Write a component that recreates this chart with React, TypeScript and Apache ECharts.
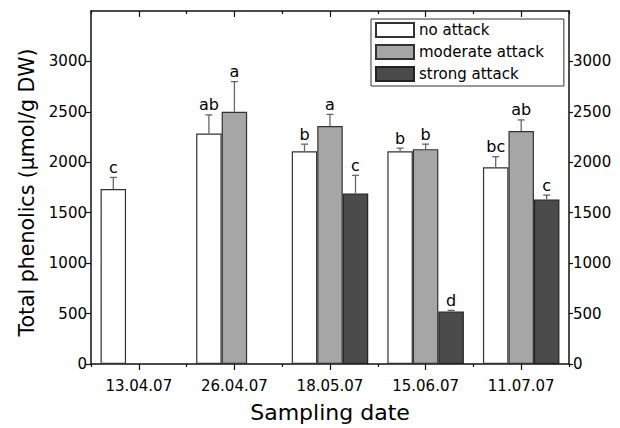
import React, { useEffect, useRef } from "react";
import * as echarts from "echarts";

const categories = ["13.04.07", "26.04.07", "18.05.07", "15.06.07", "11.07.07"];
const seriesNames = ["no attack", "moderate attack", "strong attack"];
const noAttack = [1735, 2285, 2110, 2110, 1950];
const moderate: (number | string)[] = ["-", 2500, 2360, 2130, 2310];
const strong: (number | string)[] = ["-", "-", 1690, 520, 1630];
const noAttackErr = [115, 185, 70, 30, 105];
const moderateErr = [0, 300, 115, 50, 110];
const strongErr = [0, 0, 180, 12, 45];
const noAttackLetters = ["c", "ab", "b", "b", "bc"];
const moderateLetters = ["", "a", "a", "b", "ab"];
const strongLetters = ["", "", "c", "d", "c"];
const yTicks = [0, 500, 1000, 1500, 2000, 2500, 3000];

const FONT = "DejaVu Sans";

export default function App() {
  const ref = useRef<HTMLDivElement>(null);
  useEffect(() => {
    if (!ref.current) return;
    const chart = echarts.init(ref.current, undefined, { renderer: "svg" });

    const errData: any[] = [];
    const errLetters: string[] = [];
    const vals = [noAttack, moderate, strong];
    const errs = [noAttackErr, moderateErr, strongErr];
    const lets = [noAttackLetters, moderateLetters, strongLetters];
    for (let s = 0; s < 3; s++) {
      for (let i = 0; i < categories.length; i++) {
        const v = vals[s][i];
        if (typeof v !== "number") continue;
        errData.push([i, v, errs[s][i], s]);
        errLetters.push(lets[s][i]);
      }
    }

    const colors = ["#ffffff", "#a6a6a6", "#4b4b4b"];
    const borders = ["#333333", "#333333", "#222222"];

    const axisLine = { show: true, lineStyle: { color: "#111", width: 1.5 } };
    const fmt = (v: number) => String(v);

    chart.setOption({
      animation: false,
      backgroundColor: "#ffffff",
      grid: { left: 91, right: 51, top: 11, bottom: 61 },
      legend: {
        orient: "vertical",
        left: 371,
        top: 19,
        padding: [3, 20, 4, 4],
        borderColor: "#333",
        borderWidth: 1,
        itemWidth: 38,
        itemHeight: 14,
        itemGap: 6,
        icon: "rect",
        data: seriesNames,
        textStyle: { fontFamily: FONT, fontSize: 15, color: "#000" },
      },
      xAxis: [
        {
          type: "category",
          data: categories,
          position: "bottom",
          axisLine,
          axisTick: { show: true, alignWithLabel: true, length: 6, lineStyle: { color: "#111", width: 1.2 } },
          axisLabel: { fontFamily: FONT, fontSize: 15, color: "#000", margin: 14 },
          name: "Sampling date",
          nameLocation: "middle",
          nameGap: 37,
          nameTextStyle: { fontFamily: FONT, fontSize: 22, color: "#000" },
        },
        {
          type: "category",
          data: categories,
          position: "bottom",
          axisLine: { show: false },
          axisTick: { show: true, alignWithLabel: false, length: 3, lineStyle: { color: "#111", width: 1.2 } },
          axisLabel: { show: false },
        },
        {
          type: "category",
          data: categories,
          position: "top",
          axisLine,
          axisTick: { show: true, inside: true, alignWithLabel: true, length: 6, lineStyle: { color: "#111", width: 1.2 } },
          axisLabel: { show: false },
        },
        {
          type: "category",
          data: categories,
          position: "top",
          axisLine: { show: false },
          axisTick: { show: true, inside: true, alignWithLabel: false, length: 3, lineStyle: { color: "#111", width: 1.2 } },
          axisLabel: { show: false },
        },
      ],
      yAxis: [
        {
          type: "value",
          min: 0,
          max: 3500,
          interval: 500,
          position: "left",
          axisLine,
          splitLine: { show: false },
          axisTick: { show: true, length: 5, customValues: yTicks, lineStyle: { color: "#111", width: 1.2 } },
          axisLabel: { fontFamily: FONT, fontSize: 15, color: "#000", margin: 4, customValues: yTicks, formatter: fmt },
          name: "Total phenolics (µmol/g DW)",
          nameLocation: "middle",
          nameGap: 54,
          nameTextStyle: { fontFamily: FONT, fontSize: 20.5, color: "#000", padding: [0, 10, 0, 0] },
        },
        {
          type: "value",
          min: 0,
          max: 3500,
          interval: 500,
          position: "right",
          axisLine,
          splitLine: { show: false },
          axisTick: { show: true, length: 4, customValues: yTicks, lineStyle: { color: "#111", width: 1.2 } },
          axisLabel: { fontFamily: FONT, fontSize: 15, color: "#000", margin: 4, customValues: yTicks, formatter: fmt },
        },
      ],
      series: [
        ...[noAttack, moderate, strong].map((d, s) => ({
          name: seriesNames[s],
          type: "bar",
          data: d,
          barGap: "0%",
          barCategoryGap: "20%",
          itemStyle: { color: colors[s], borderColor: borders[s], borderWidth: 1.2 },
        })),
        {
          name: "errors",
          type: "custom",
          z: 5,
          data: errData,
          renderItem: (params: any, api: any) => {
            const ci = api.value(0);
            const v = api.value(1);
            const e = api.value(2);
            const s = api.value(3);
            const band = api.size([1, 0])[0];
            const bw = (band * 0.8) / 3;
            const base = api.coord([ci, v]);
            const x = base[0] + (s - 1) * bw;
            const yTop = base[1];
            const yErr = api.coord([ci, v + e])[1];
            const stroke = { stroke: "#666", lineWidth: 1.3 };
            return {
              type: "group",
              children: [
                { type: "line", shape: { x1: x, y1: yTop, x2: x, y2: yErr }, style: stroke },
                { type: "line", shape: { x1: x - 3.5, y1: yErr, x2: x + 3.5, y2: yErr }, style: stroke },
                {
                  type: "text",
                  style: {
                    x,
                    y: yErr - 2,
                    text: errLetters[params.dataIndex],
                    align: "center",
                    verticalAlign: "bottom",
                    font: `16px "${FONT}"`,
                    fill: "#000",
                  },
                },
              ],
            };
          },
        },
      ],
    });
    return () => chart.dispose();
  }, []);
  return <div ref={ref} style={{ width: 620, height: 428, position: "absolute", left: 0, top: 0 }} />;
}
